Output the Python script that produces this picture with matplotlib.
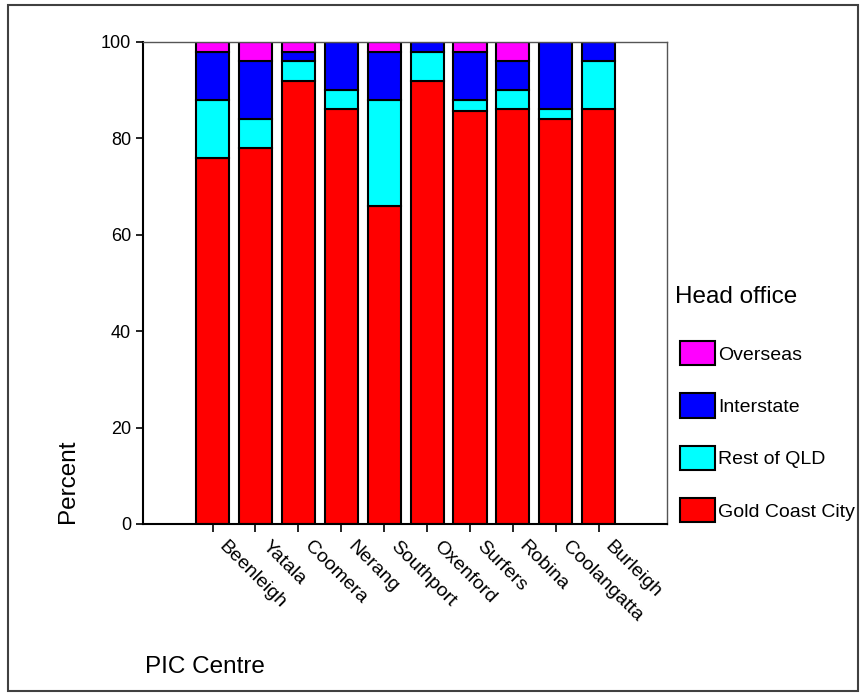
import matplotlib.pyplot as plt
import numpy as np
from matplotlib.patches import Rectangle
from matplotlib.transforms import ScaledTranslation

plt.rcParams['font.family'] = ['Liberation Sans', 'DejaVu Sans']

centres = ['Beenleigh', 'Yatala', 'Coomera', 'Nerang', 'Southport',
           'Oxenford', 'Surfers', 'Robina', 'Coolangatta', 'Burleigh']
gold_coast = [76, 78, 92, 86, 66, 92, 85.7, 86, 84, 86]
rest_qld = [12, 6, 4, 4, 22, 6, 2.2, 4, 2, 10]
interstate = [10, 12, 2, 10, 10, 2, 10.1, 6, 14, 4]
overseas = [2, 4, 2, 0, 2, 0, 2, 4, 0, 0]

series = [('Gold Coast City', gold_coast, '#ff0000'),
          ('Rest of QLD', rest_qld, '#00ffff'),
          ('Interstate', interstate, '#0000ff'),
          ('Overseas', overseas, '#ff00ff')]

fig = plt.figure(figsize=(8.6, 6.93), dpi=100)
ax = fig.add_axes([143/860, 1-524/693, (667-143)/860, (524-42)/693])

x = np.arange(len(centres))
bottom = np.zeros(len(centres))
handles = []
for name, vals, col in series:
    b = ax.bar(x, vals, 0.77, bottom=bottom, color=col, edgecolor='black',
               linewidth=1.5, label=name)
    handles.append(b)
    bottom += np.array(vals)

ax.set_xlim(-1.62, 10.59)
ax.set_ylim(0, 100)
ax.set_yticks([0, 20, 40, 60, 80, 100])
ax.tick_params(axis='y', labelsize=13, length=5, width=1.2, direction='out')
ax.set_xticks(x)
ax.set_xticklabels(centres, rotation=-45, ha='left', va='top',
                   rotation_mode='anchor', fontsize=14)
ax.tick_params(axis='x', length=6, width=1.2, direction='out', pad=4)
shift = ScaledTranslation(0.15, 0, fig.dpi_scale_trans)
for lab in ax.get_xticklabels():
    lab.set_transform(lab.get_transform() + shift)
for s in ['left', 'bottom']:
    ax.spines[s].set_linewidth(1.5)
for s in ['top', 'right']:
    ax.spines[s].set_linewidth(1.0)
    ax.spines[s].set_color('#555555')

fig.text(68/860, 1-481/693, 'Percent', rotation=90, ha='center', va='center',
         fontsize=17.5)
fig.text(145/860, 1-673/693, 'PIC Centre', ha='left', va='baseline',
         fontsize=17.5)
fig.text(675/860, 1-303/693, 'Head office', ha='left', va='baseline',
         fontsize=17.5)

fig.legend(handles[::-1], [s[0] for s in series][::-1], loc='upper left',
           bbox_to_anchor=(680/860, 1-341/693), frameon=False, fontsize=14,
           handlelength=1.8, handleheight=1.55, labelspacing=1.44,
           handletextpad=0.15, borderpad=0, borderaxespad=0)

# outer frame, slightly inset as in the original export
fig.add_artist(Rectangle((8/860, 2/693), 850/860, 686/693,
                         transform=fig.transFigure, fill=False,
                         edgecolor='#404040', linewidth=1.5))

fig.savefig('out.png', dpi=100)
